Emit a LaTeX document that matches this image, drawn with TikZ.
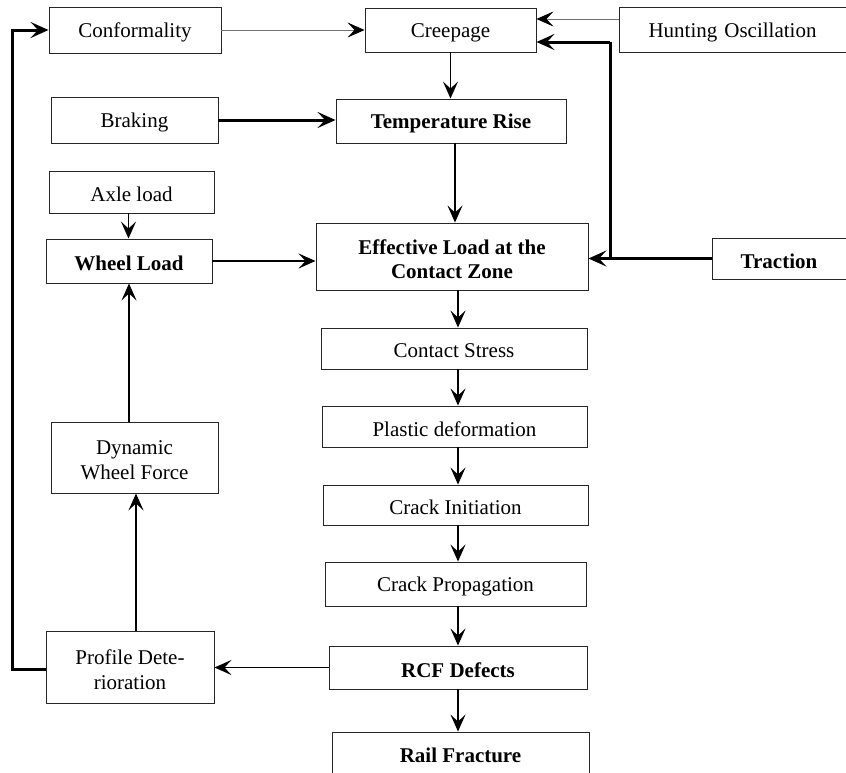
\documentclass[tikz,border=0pt]{standalone}
\usepackage{fontspec}
\setmainfont{Liberation Serif}
\usetikzlibrary{arrows.meta,calc}
\newcommand{\lw}[1]{\raisebox{-2.5pt}[\height][\depth]{#1}}
\begin{document}
\begin{tikzpicture}[x=1pt,y=1pt,
  box/.style={draw=black!85,line width=0.9pt,rectangle,inner sep=0pt,align=center,font=\fontsize{21}{24.5}\selectfont},
  bbox/.style={box,font=\fontsize{21}{24.5}\selectfont\bfseries},
  arr/.style={line width=1.6pt,-{Stealth[length=17pt,width=15pt,inset=7pt]}},
  tarr/.style={line width=3pt,-{Stealth[length=18pt,width=16pt,inset=7.5pt]}},
  garr/.style={line width=0.8pt,draw=black!55,-{Stealth[length=17pt,width=15pt,inset=7pt,color=black]}}]
\useasboundingbox (0,0) rectangle (846,-772);
\node[box,minimum width=172,minimum height=46] (conf) at (135,-30) {\lw{Conformality}};
\node[box,minimum width=171,minimum height=44] (creep) at (450.5,-30) {\lw{Creepage}};
\node[box,minimum width=231,minimum height=45,text width=227] (hunt) at (734.5,-29.5) {\hspace*{-4pt}\lw{Hunting Oscillation}\hspace*{4pt}};
\node[box,minimum width=167,minimum height=46] (brak) at (134.5,-120) {\lw{Braking}};
\node[bbox,minimum width=230,minimum height=44] (temp) at (451,-121) {\lw{Temperature Rise}};
\node[box,minimum width=165,minimum height=42] (axle) at (131.5,-192) {\lw{Axle load}};
\node[bbox,minimum width=166,minimum height=44] (wheel) at (129,-261) {\lw{Wheel Load}};
\node[bbox,minimum width=272,minimum height=67] (eff) at (452,-256.5) {\lw{Effective Load at the}\\\lw{Contact Zone}};
\node[bbox,minimum width=138,minimum height=41,text width=134] (trac) at (781,-258.5) {\hspace*{-4pt}\lw{Traction}\hspace*{4pt}};
\node[box,minimum width=266,minimum height=41] (cs) at (454,-348.5) {\lw{Contact Stress}};
\node[box,minimum width=265,minimum height=41] (pd) at (454.5,-426.5) {\lw{Plastic deformation}};
\node[box,minimum width=265,minimum height=40] (ci) at (455.5,-505) {\lw{Crack Initiation}};
\node[box,minimum width=261,minimum height=44] (cp) at (455.5,-584) {\lw{Crack Propagation}};
\node[bbox,minimum width=258,minimum height=43] (rcf) at (458,-667.5) {\lw{RCF Defects}};
\node[bbox,minimum width=257,minimum height=46] (rail) at (460.5,-755) {Rail Fracture};
\node[box,minimum width=167,minimum height=71] (dyn) at (134.5,-457.5) {\lw{Dynamic}\\\lw{Wheel Force}};
\node[box,minimum width=168,minimum height=72] (prof) at (130,-667) {\lw{Profile Dete-}\\\lw{rioration}};
% thin grey arrows
\draw[garr] (conf.east) -- (creep.west);
\draw[garr] ([yshift=10.5pt]hunt.west) -- ([yshift=10.5pt]hunt.west -| creep.east);
% traction loop
\coordinate (j) at (610,-258.5);
\coordinate (k) at (610,-42);
\draw[tarr] (trac.west) -- (j) -- (j -| eff.east);
\draw[line width=3pt] (j) -- (k);
\draw[tarr] (k) -- (k -| creep.east);
% main flow
\draw[arr] (creep.south) -- (creep.south |- temp.north);
\draw[tarr] (brak.east) -- (brak.east -| temp.west);
\draw[arr] ([xshift=4pt]temp.south) -- ([xshift=4pt]temp.south |- eff.north);
\draw[arr] ([xshift=-3pt]axle.south) -- ([xshift=-3pt]axle.south |- wheel.north);
\draw[arr] (wheel.east) -- (wheel.east -| eff.west);
\draw[arr] (dyn.north -| wheel.south) -- (wheel.south);
\draw[arr] (prof.north -| 136,0) -- (dyn.south -| 136,0);
\draw[arr] (eff.south -| rcf.north) -- (cs.north -| rcf.north);
\draw[arr] (cs.south -| rcf.north) -- (pd.north -| rcf.north);
\draw[arr] (pd.south -| rcf.north) -- (ci.north -| rcf.north);
\draw[arr] (ci.south -| rcf.north) -- (cp.north -| rcf.north);
\draw[arr] (cp.south -| rcf.north) -- (rcf.north);
\draw[arr] (rcf.south) -- (rcf.south |- rail.north);
\draw[arr] (rcf.west) -- (rcf.west -| prof.east);
% left feedback loop
\coordinate (l) at (12,-669);
\draw[tarr] ([yshift=-2pt]prof.west) -- (l) |- (conf.west);
\end{tikzpicture}
\end{document}
